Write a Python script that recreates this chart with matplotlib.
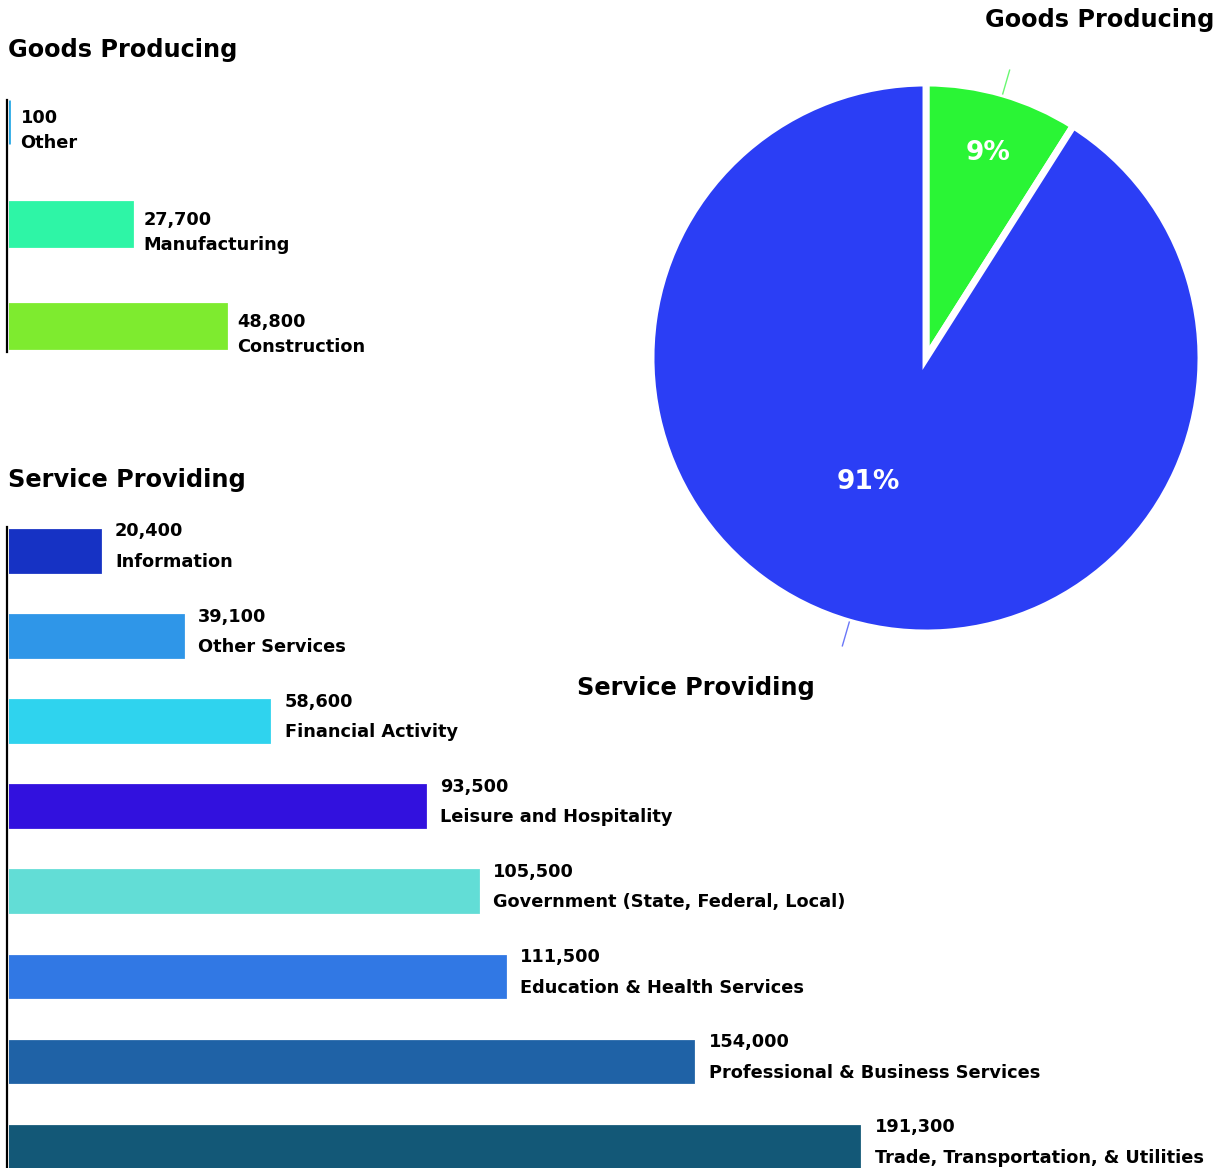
import numpy as np
import matplotlib.pyplot as plt

plt.rcParams['font.family'] = ['DejaVu Sans']

# Goods producing sectors
goods_labels = ['Other', 'Manufacturing', 'Construction']
goods_values = [100, 27700, 48800]
goods_colors = ['#29a9e6', '#2ef5a6', '#7eeb2f']

# Service providing sectors
service_labels = ['Information', 'Other Services', 'Financial Activity',
                  'Leisure and Hospitality', 'Government (State, Federal, Local)',
                  'Education & Health Services', 'Professional & Business Services',
                  'Trade, Transportation, & Utilities']
service_values = [20400, 39100, 58600, 93500, 105500, 111500, 154000, 191300]
service_colors = ['#1632c4', '#2f96e8', '#2fd3ee', '#3211de',
                  '#62ddd6', '#3178e4', '#1f62a6', '#135877']

# Share of total employment
pie_labels = ['Goods Producing', 'Service Providing']
pie_pcts = [9, 91]
pie_colors = ['#2af535', '#2b3ef5']

W, H = 1219, 1168
fig = plt.figure(figsize=(W / 100, H / 100), dpi=100)

XMAX = 198000
LABEL_SIZE = 12.8
TITLE_SIZE = 17.3


def px_axes(left, top, width, height):
    return fig.add_axes([left / W, 1 - (top + height) / H, width / W, height / H])


def bar_panel(ax, labels, values, colors, bar_h, ylim, dx, dy_val, dy_name):
    y = np.arange(len(values))
    ax.barh(y, values, height=bar_h, color=colors, edgecolor=colors, linewidth=2)
    ax.set_xlim(0, XMAX)
    ax.set_ylim(*ylim)
    for s in ['top', 'right', 'bottom']:
        ax.spines[s].set_visible(False)
    ax.spines['left'].set_linewidth(1.6)
    ax.spines['left'].set_position(('outward', 1.5))
    ax.set_xticks([])
    ax.set_yticks([])
    ax.patch.set_alpha(0)
    for yi, v, name in zip(y, values, labels):
        ax.annotate(f'{v:,}', (v, yi), xytext=(dx, dy_val), textcoords='offset points',
                    va='center', ha='left', fontsize=LABEL_SIZE, fontweight='bold')
        ax.annotate(name, (v, yi), xytext=(dx, dy_name), textcoords='offset points',
                    va='center', ha='left', fontsize=LABEL_SIZE, fontweight='bold')


ax_g = px_axes(9, 100, 880, 252)
bar_panel(ax_g, goods_labels, goods_values, goods_colors, 0.43, (2.255, -0.216), 8, 3, -15)
fig.text(8 / W, 1 - 50 / H, 'Goods Producing', fontsize=TITLE_SIZE, fontweight='bold',
         va='center', ha='left')

ax_s = px_axes(9, 527, 880, 641)
bar_panel(ax_s, service_labels, service_values, service_colors, 0.49, (7.25, -0.28),
          11, 14, -8)
fig.text(8 / W, 1 - 480 / H, 'Service Providing', fontsize=TITLE_SIZE, fontweight='bold',
         va='center', ha='left')

# Pie of goods vs services
r_px = 275
ax_p = px_axes(926 - r_px, 358 - r_px, 2 * r_px, 2 * r_px)
wedges, _ = ax_p.pie(pie_pcts, colors=pie_colors, startangle=90, counterclock=False,
                     radius=1, wedgeprops=dict(edgecolor='white', linewidth=5))
ax_p.set_xlim(-1, 1)
ax_p.set_ylim(-1, 1)
ax_p.set_aspect('equal')
ax_p.axis('off')

pct_pos = [(0.225, 0.745), (-0.211, -0.451)]
label_pos = [(1.047, 1.23, 'right'), (-0.836, -1.2, 'center')]
for w, p, (px, py), (lx, ly, ha), name, c in zip(wedges, pie_pcts, pct_pos, label_pos,
                                                 pie_labels, pie_colors):
    mid = np.deg2rad((w.theta1 + w.theta2) / 2)
    ax_p.text(px, py, f'{p}%', color='white', fontsize=19,
              fontweight='bold', ha='center', va='center')
    ax_p.plot([np.cos(mid), 1.09 * np.cos(mid)], [np.sin(mid), 1.09 * np.sin(mid)],
              color=c, lw=1, alpha=0.7, clip_on=False)
    ax_p.text(lx, ly, name, fontsize=TITLE_SIZE, fontweight='bold', ha=ha, va='center',
              clip_on=False)

fig.savefig('out.png', dpi=100)
